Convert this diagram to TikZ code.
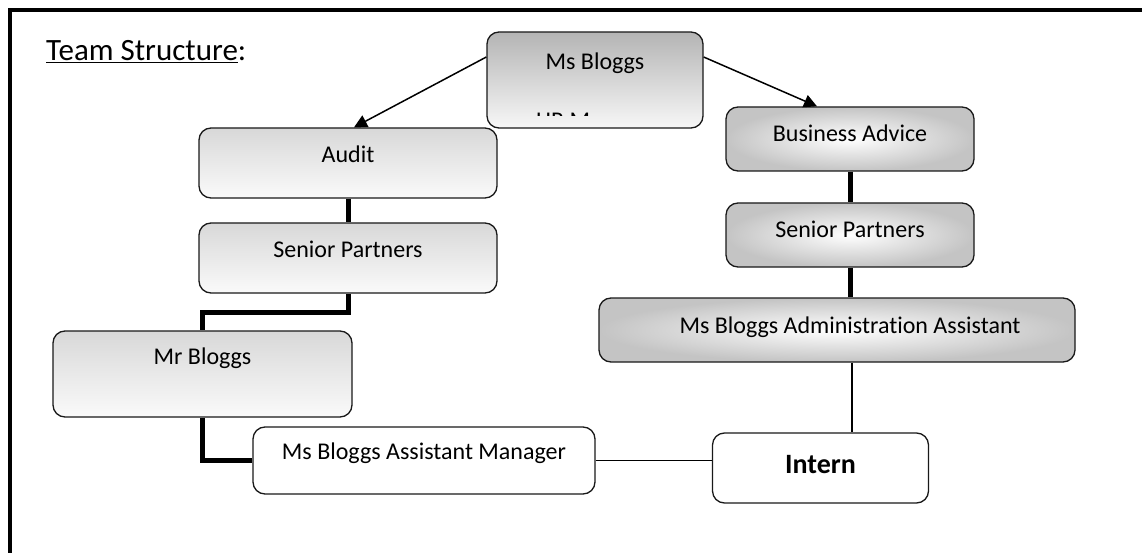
\documentclass[tikz,border=0pt]{standalone}
\usepackage{fontspec}
\setmainfont[Ligatures={NoCommon}]{Carlito}
\usetikzlibrary{arrows.meta,calc}
\definecolor{topgray}{HTML}{B4B4B4}
\definecolor{lightgray}{HTML}{D8D8D8}
\definecolor{edgegray}{HTML}{C4C4C4}
\tikzset{
  box/.style={draw=black!90, line width=1.3pt, rounded corners=12pt, inner sep=0pt},
  shadeA/.style={box, top color=topgray, bottom color=white!97!black},
  shadeB/.style={box, top color=lightgray, bottom color=white!98!black},
  shadeC/.style={box, shading=radial, inner color=white, outer color=edgegray},
  plain/.style={box, fill=white},
  txt/.style={inner sep=0pt, text height=15.5pt, text depth=0pt, font=\fontsize{24}{28}\selectfont},
  thick link/.style={line width=5pt},
  thin link/.style={line width=1.5pt},
  arrowlink/.style={line width=1.5pt, -{Triangle[length=13pt,width=13pt]}}
}
\begin{document}
\begin{tikzpicture}[x=1pt,y=-1pt]
\useasboundingbox (0,0) rectangle (1142,553);
% frame
\draw[line width=4pt] (10,553) -- (10,10) -- (1142,10);
% title
\node[anchor=base west, inner sep=0pt, font=\fontsize{31}{36}\selectfont] (title) at (46,61) {\underline{Team Structure}:};
% boxes
\node[shadeA, minimum width=216pt, minimum height=96pt] (msb) at (595,80) {};
\node[shadeB, minimum width=298pt, minimum height=70pt] (audit) at (348,163) {};
\node[shadeB, minimum width=298pt, minimum height=70pt] (spl) at (348,258) {};
\node[shadeB, minimum width=299pt, minimum height=86pt] (mrb) at (202.5,374) {};
\node[plain, minimum width=342pt, minimum height=67pt] (am) at (424,460.5) {};
\node[plain, minimum width=216pt, minimum height=70pt] (intern) at (820.5,468) {};
\node[shadeC, minimum width=248pt, minimum height=64pt] (ba) at (850,139) {};
\node[shadeC, minimum width=248pt, minimum height=64pt] (spr) at (850,235) {};
\node[shadeC, minimum width=476pt, minimum height=64pt] (adm) at (837,330) {};
% texts
\node[txt] (msb-t) at ($(msb.center)+(0,-18)$) {Ms Bloggs};
\begin{scope}
  \clip (530,113) rectangle (590,115.5);
  \node[anchor=north west, inner sep=0pt, font=\fontsize{24}{28}\selectfont] (msb-hr) at (536,113) {HR Manager};
\end{scope}
\node[txt] (audit-t) at ($(audit.center)+(0,-8)$) {Audit};
\node[txt] (spl-t) at ($(spl.center)+(0,-8)$) {Senior Partners};
\node[txt] (mrb-t) at ($(mrb.center)+(0,-17)$) {Mr Bloggs};
\node[txt] (am-t) at ($(am.center)+(0,-9)$) {Ms Bloggs Assistant Manager};
\node[inner sep=0pt, text height=18pt, text depth=0pt, font=\fontsize{28}{32}\selectfont\bfseries] (intern-t) at ($(intern.center)+(0,-4)$) {Intern};
\node[txt] (ba-t) at ($(ba.center)+(0,-5)$) {Business Advice};
\node[txt] (spr-t) at ($(spr.center)+(0,-5)$) {Senior Partners};
\node[txt] (adm-t) at ($(adm.center)+(13,-4)$) {Ms Bloggs Administration Assistant};
% connectors
\draw[arrowlink] ($(msb.west)+(0,-23)$) -- ($(audit.north)+(6,0)$);
\draw[arrowlink] ($(msb.east)+(0,-23)$) -- ($(ba.north)+(-33,0)$);
\draw[thick link] (audit.south) -- (spl.north);
\draw[thick link] (spl.south) -- ++(0,19) -| (mrb.north);
\draw[thick link] (mrb.south) |- (am.west);
\draw[thick link] (ba.south) -- (spr.north);
\draw[thick link] (spr.south) -- (spr.south |- adm.north);
\draw[thin link] ($(spr.south |- adm.south)+(2,0)$) -- ($(spr.south |- intern.north)+(2,0)$);
\draw[thin link] (am.east) -- (am.east -| intern.west);
\end{tikzpicture}
\end{document}
